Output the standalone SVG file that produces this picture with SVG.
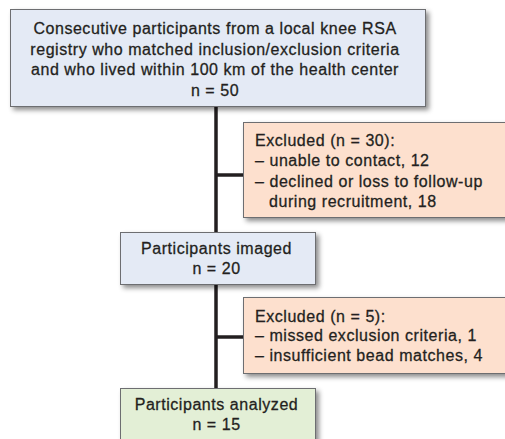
<svg xmlns="http://www.w3.org/2000/svg" width="505" height="439" viewBox="0 0 505 439">
  <defs>
    <filter id="shadow" x="-10%" y="-10%" width="130%" height="140%">
      <feDropShadow dx="3" dy="3" stdDeviation="2.5" flood-color="#000" flood-opacity="0.45"/>
    </filter>
  </defs>
  <style>
    .box { stroke: #6d6e71; stroke-width: 1; filter: url(#shadow); }
    .blue { fill: #e4eaf5; }
    .peach { fill: #fde0ce; }
    .green { fill: #e3efd6; }
    text { font-family: "Liberation Sans", Arial, sans-serif; font-size: 16px; letter-spacing: 0.55px; fill: #231f20; stroke: #231f20; stroke-width: 0.28; }
    .c { text-anchor: middle; }
    .link { stroke: #231f20; stroke-width: 3.5; fill: none; }
  </style>
  <rect width="505" height="439" fill="#ffffff"/>

  <g id="connectors">
    <line class="link" x1="216" y1="107" x2="216" y2="389"/>
    <line class="link" x1="216" y1="175" x2="243" y2="175"/>
    <line class="link" x1="216" y1="337" x2="243" y2="337"/>
  </g>

  <g id="registry">
    <rect class="box blue" x="10.5" y="9.5" width="415" height="97"/>
    <text class="c" x="215" y="34">Consecutive participants from a local knee RSA</text>
    <text class="c" x="215" y="54.5">registry who matched inclusion/exclusion criteria</text>
    <text class="c" x="215" y="75">and who lived within 100 km of the health center</text>
    <text class="c" x="215" y="95.5">n = 50</text>
  </g>

  <g id="excluded-30">
    <rect class="box peach" x="243.5" y="122.5" width="266" height="95"/>
    <text x="255" y="146">Excluded (n = 30):</text>
    <text x="255" y="166">– unable to contact, 12</text>
    <text x="255" y="186.5">– declined or loss to follow-up</text>
    <text x="269" y="207">during recruitment, 18</text>
  </g>

  <g id="imaged">
    <rect class="box blue" x="120.5" y="232.5" width="195" height="52"/>
    <text class="c" x="216.5" y="253.5">Participants imaged</text>
    <text class="c" x="216.5" y="273.5">n = 20</text>
  </g>

  <g id="excluded-5">
    <rect class="box peach" x="243.5" y="297.5" width="266" height="76"/>
    <text x="255" y="321.5">Excluded (n = 5):</text>
    <text x="255" y="341">– missed exclusion criteria, 1</text>
    <text x="255" y="360.5">– insufficient bead matches, 4</text>
  </g>

  <g id="analyzed">
    <rect class="box green" x="120.5" y="388.5" width="195" height="60"/>
    <text class="c" x="216.5" y="410">Participants analyzed</text>
    <text class="c" x="216.5" y="429.5">n = 15</text>
  </g>
</svg>
